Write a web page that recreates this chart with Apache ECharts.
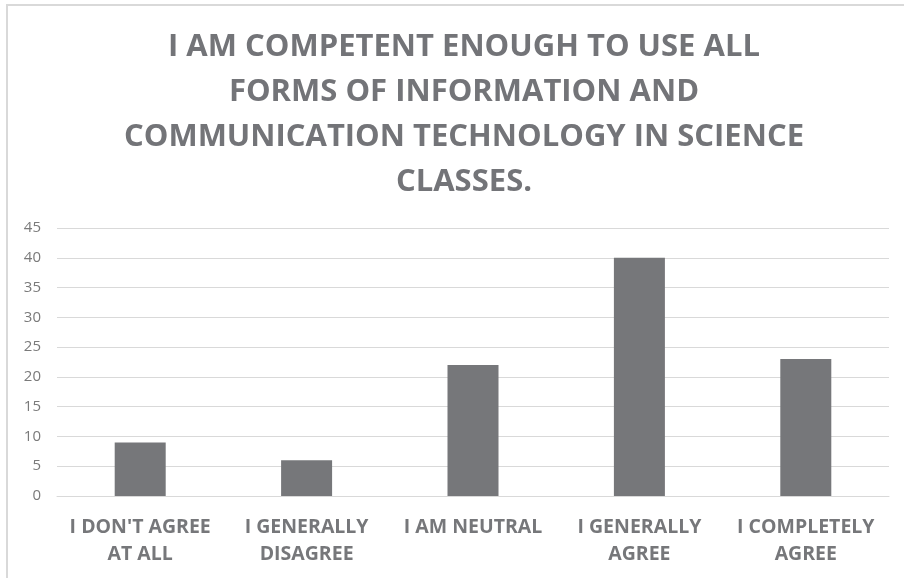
<!DOCTYPE html>
<html>
<head>
<meta charset="utf-8">
<script src="https://cdn.jsdelivr.net/npm/echarts@6/dist/echarts.min.js"></script>
<style>
  html, body { margin: 0; padding: 0; background: #fff; }
  #chart { width: 904px; height: 578px; }
</style>
</head>
<body>
<div id="chart"></div>
<script>
const categories = ["I DON'T AGREE\nAT ALL", 'I GENERALLY\nDISAGREE', 'I AM NEUTRAL', 'I GENERALLY\nAGREE', 'I COMPLETELY\nAGREE'];
const counts = [9, 6, 22, 40, 23];
const titleText = 'I AM COMPETENT ENOUGH TO USE ALL\nFORMS OF INFORMATION AND\nCOMMUNICATION TECHNOLOGY IN SCIENCE\nCLASSES.';

const chart = echarts.init(document.getElementById('chart'));
chart.setOption({
  animation: false,
  textStyle: { fontFamily: '"Open Sans", sans-serif' },
  title: {
    text: titleText,
    left: 459,
    top: 20,
    textAlign: 'center',
    textStyle: {
      color: '#737478',
      fontSize: 31,
      fontWeight: 'bold',
      lineHeight: 45,
      fontFamily: '"Open Sans", sans-serif'
    }
  },
  graphic: [{
    type: 'rect',
    shape: { x: 7, y: 5, width: 920, height: 600 },
    style: { fill: 'none', stroke: '#d9d9d9', lineWidth: 2 },
    silent: true
  }],
  grid: { left: 57, right: 15, top: 228, bottom: 82 },
  xAxis: {
    type: 'category',
    data: categories,
    axisTick: { show: false },
    axisLine: { lineStyle: { color: '#d9d9d9', width: 1 } },
    axisLabel: {
      color: '#76777a',
      fontSize: 19.5,
      fontWeight: 'bold',
      lineHeight: 27,
      margin: 18,
      interval: 0
    }
  },
  yAxis: {
    type: 'value',
    min: 0,
    max: 45,
    interval: 5,
    axisLine: { show: false },
    axisTick: { show: false },
    splitLine: { lineStyle: { color: '#d9d9d9', width: 1 } },
    axisLabel: { color: '#7a7a7a', fontSize: 15, margin: 16 }
  },
  series: [{
    type: 'bar',
    data: counts,
    barWidth: 51,
    itemStyle: { color: '#76777a' }
  }]
});
</script>
</body>
</html>
